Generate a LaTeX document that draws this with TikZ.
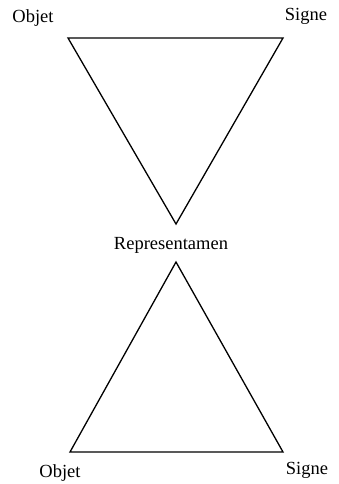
\documentclass[tikz,border=0pt]{standalone}
\usepackage{fontspec}
\setmainfont{Liberation Serif}
\usetikzlibrary{positioning}

\begin{document}
\begin{tikzpicture}[
  x=1pt, y=-1pt,
  every node/.style={font=\fontsize{18.5}{20}\selectfont, inner sep=0pt},
  side/.style={line width=1.3pt, line join=miter},
  lbl/.style={anchor=base}
]
  \useasboundingbox (0,0) rectangle (338,484);

  % Triangle du haut
  \coordinate (objH) at (68,38);
  \coordinate (sigH) at (283,38);
  \coordinate (repH) at (176,224);
  \draw[side] (objH) -- (sigH) -- (repH) -- cycle;

  % Triangle du bas
  \coordinate (repB) at (176,262);
  \coordinate (objB) at (70,452);
  \coordinate (sigB) at (283,452);
  \draw[side] (repB) -- (sigB) -- (objB) -- cycle;

  % Etiquettes
  \node[lbl] (tObjH) at (33,23) {Objet};
  \node[lbl] (tSigH) at (306,21) {Signe};
  \node[lbl] (tRep) at (171,249) {Representamen};
  \node[lbl] (tObjB) at (60,477) {Objet};
  \node[lbl] (tSigB) at (307,474) {Signe};

\end{tikzpicture}
\end{document}
